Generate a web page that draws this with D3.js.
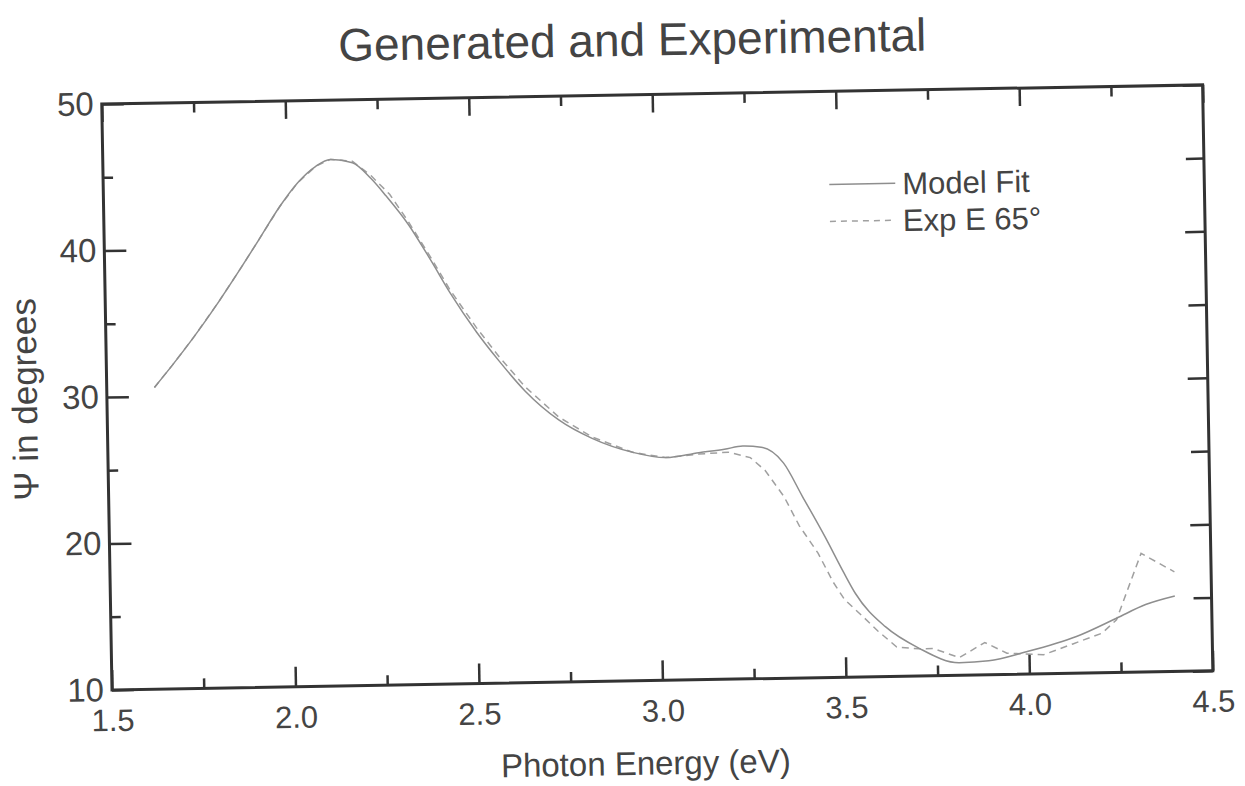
<!DOCTYPE html>
<html>
<head>
<meta charset="utf-8">
<script src="https://cdn.jsdelivr.net/npm/d3@7"></script>
<style>
  body { margin: 0; background: #fff; }
  text { font-family: "Liberation Sans", Arial, sans-serif; fill: #444; }
</style>
</head>
<body>
<div id="chart"></div>
<script>
// Model fit curve (photon energy in eV, psi in degrees)
const modelEnergy = [1.63, 1.68, 1.74, 1.81, 1.87, 1.92, 1.98, 2.03, 2.08, 2.12, 2.18, 2.23, 2.27, 2.33, 2.39, 2.44, 2.51, 2.57, 2.64, 2.73, 2.82, 2.93, 3.02, 3.11, 3.18, 3.23, 3.28, 3.34, 3.39, 3.45, 3.50, 3.53, 3.61, 3.70, 3.81, 3.89, 3.99, 4.13, 4.24, 4.32, 4.40];
const modelPsi = [30.6, 32.1, 34.0, 36.4, 38.6, 40.5, 42.8, 44.4, 45.5, 45.95, 45.7, 44.6, 43.4, 41.4, 38.9, 36.7, 34.0, 32.0, 29.9, 27.9, 26.6, 25.6, 25.2, 25.5, 25.7, 25.9, 25.8, 24.7, 22.4, 19.6, 17.1, 15.7, 13.4, 11.9, 10.85, 10.95, 11.5, 12.5, 13.7, 14.6, 15.15];

// Experimental data, 65 degrees
const expEnergy = [1.63, 1.68, 1.74, 1.81, 1.87, 1.92, 1.98, 2.03, 2.08, 2.12, 2.18, 2.23, 2.28, 2.33, 2.39, 2.44, 2.51, 2.57, 2.64, 2.73, 2.82, 2.93, 3.02, 3.11, 3.19, 3.25, 3.29, 3.34, 3.38, 3.43, 3.47, 3.50, 3.55, 3.59, 3.64, 3.70, 3.74, 3.81, 3.88, 3.94, 4.04, 4.12, 4.20, 4.24, 4.31, 4.40];
const expPsi = [30.6, 32.1, 34.0, 36.4, 38.6, 40.5, 42.8, 44.4, 45.5, 45.95, 45.8, 44.8, 43.5, 41.6, 39.1, 36.9, 34.3, 32.3, 30.2, 28.1, 26.7, 25.6, 25.2, 25.4, 25.5, 25.1, 24.2, 22.4, 20.4, 18.5, 16.5, 15.3, 14.1, 13.1, 12.0, 11.85, 11.85, 11.2, 12.2, 11.45, 11.3, 12.0, 12.7, 13.6, 18.1, 16.8];

// Axis ticks
const xMajorTicks = [1.5, 2.0, 2.5, 3.0, 3.5, 4.0, 4.5];
const xMinorTicks = [1.75, 2.25, 2.75, 3.25, 3.75, 4.25];
const yMajorTicks = [10, 20, 30, 40, 50];
const yMinorTicks = [15, 25, 35, 45];

const legendLabels = ["Model Fit", "Exp E 65°"];

const W = 1245, H = 786;
const margin = { top: 104, right: 32, bottom: 96, left: 112 };
const width = W - margin.left - margin.right;
const height = H - margin.top - margin.bottom;

const svg = d3.select("#chart")
  .append("svg")
  .attr("width", W)
  .attr("height", H);

// the scanned page is slightly tilted
const page = svg.append("g")
  .attr("transform", `rotate(-1, ${margin.left}, ${margin.top + height})`);

const g = page.append("g")
  .attr("transform", `translate(${margin.left},${margin.top})`);

const x = d3.scaleLinear().domain([1.5, 4.5]).range([0, width]);
const y = d3.scaleLinear().domain([10, 50]).range([height, 0]);

const axisColor = "#333";

function styleAxis(sel, fontSize = 30) {
  sel.select(".domain").remove();
  sel.selectAll(".tick line").attr("stroke", axisColor).attr("stroke-width", 2.5);
  sel.selectAll(".tick text").attr("font-size", fontSize).attr("fill", "#444")
    .attr("font-family", '"Liberation Sans", Arial, sans-serif');
}

// bottom axis
g.append("g").attr("transform", `translate(0,${height})`)
  .call(d3.axisBottom(x).tickValues(xMajorTicks).tickSize(-20).tickPadding(19).tickFormat(d3.format(".1f")))
  .call(styleAxis, 31);
g.append("g").attr("transform", `translate(0,${height})`)
  .call(d3.axisBottom(x).tickValues(xMinorTicks).tickSize(-10).tickFormat(""))
  .call(styleAxis);

// top axis
g.append("g")
  .call(d3.axisTop(x).tickValues(xMajorTicks).tickSize(-18).tickFormat(""))
  .call(styleAxis);
g.append("g")
  .call(d3.axisTop(x).tickValues(xMinorTicks).tickSize(-10).tickFormat(""))
  .call(styleAxis);

// left axis
g.append("g")
  .call(d3.axisLeft(y).tickValues(yMajorTicks).tickSize(-22).tickPadding(8).tickFormat(d3.format("d")))
  .call(styleAxis, 33);
g.append("g")
  .call(d3.axisLeft(y).tickValues(yMinorTicks).tickSize(-10).tickFormat(""))
  .call(styleAxis);

// right axis
g.append("g").attr("transform", `translate(${width},0)`)
  .call(d3.axisRight(y).tickValues(yMajorTicks).tickSize(-20).tickFormat(""))
  .call(styleAxis);
g.append("g").attr("transform", `translate(${width},0)`)
  .call(d3.axisRight(y).tickValues(yMinorTicks).tickSize(-18).tickFormat(""))
  .call(styleAxis);

// frame
g.append("rect")
  .attr("x", 0).attr("y", 0)
  .attr("width", width).attr("height", height)
  .attr("fill", "none")
  .attr("stroke", axisColor)
  .attr("stroke-width", 3);

// curves
const modelData = modelEnergy.map((e, i) => [e, modelPsi[i]]);
const expData = expEnergy.map((e, i) => [e, expPsi[i]]);

const modelLine = d3.line()
  .x(d => x(d[0]))
  .y(d => y(d[1]))
  .curve(d3.curveMonotoneX);

const expLine = d3.line()
  .x(d => x(d[0]))
  .y(d => y(d[1]));

g.append("path")
  .datum(expData)
  .attr("d", expLine)
  .attr("fill", "none")
  .attr("stroke", "#a0a0a0")
  .attr("stroke-width", 1.5)
  .attr("stroke-dasharray", "7,5");

g.append("path")
  .datum(modelData)
  .attr("d", modelLine)
  .attr("fill", "none")
  .attr("stroke", "#8e8e8e")
  .attr("stroke-width", 1.5);

// legend
const legend = g.append("g").attr("transform", `translate(${726},${93})`);
legendLabels.forEach((label, i) => {
  const ly = i * 37;
  legend.append("line")
    .attr("x1", 0).attr("x2", 66)
    .attr("y1", ly).attr("y2", ly)
    .attr("stroke", i === 0 ? "#8e8e8e" : "#a0a0a0")
    .attr("stroke-width", 1.5)
    .attr("stroke-dasharray", i === 0 ? null : "6,5");
  legend.append("text")
    .attr("x", 73)
    .attr("y", ly + 11)
    .attr("font-size", 31)
    .text(label);
});

// title and axis labels
page.append("text")
  .attr("x", margin.left + width / 2 - 19)
  .attr("y", 65)
  .attr("text-anchor", "middle")
  .attr("font-size", 46)
  .text("Generated and Experimental");

page.append("text")
  .attr("x", margin.left + width / 2 - 18)
  .attr("y", 784)
  .attr("text-anchor", "middle")
  .attr("font-size", 33)
  .text("Photon Energy (eV)");

page.append("text")
  .attr("transform", `translate(42, 398) rotate(-90)`)
  .attr("text-anchor", "middle")
  .attr("font-size", 35)
  .text("Ψ in degrees");
</script>
</body>
</html>
